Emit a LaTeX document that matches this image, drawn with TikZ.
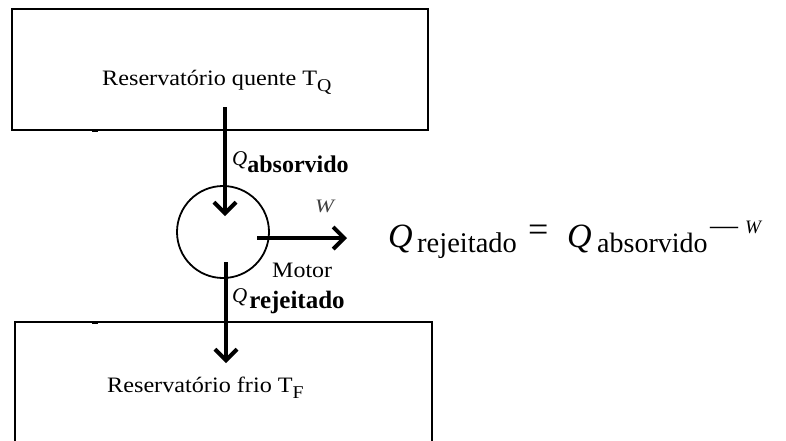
\documentclass[tikz,border=0pt]{standalone}
\usepackage{fontspec}
\setmainfont{Liberation Serif}
\usetikzlibrary{arrows.meta, positioning, calc}

% texto levemente alargado na horizontal
\newcommand{\wide}[2][1.1]{\scalebox{#1}[1]{#2}}

\begin{document}
\begin{tikzpicture}[
  x=1pt, y=-1pt,
  reservoir/.style={draw, line width=1.8pt, minimum width=416pt, inner sep=0pt},
  engine/.style={draw, circle, line width=1.8pt, minimum size=92pt, inner sep=0pt},
  flow/.style={line width=4pt, -{Straight Barb[length=11pt, width=22pt, line width=4pt]}},
  tick/.style={line width=3pt},
  lbl/.style={inner sep=0pt, anchor=base west},
  eqbig/.style={lbl, font=\fontsize{34}{34}\selectfont\itshape},
  eqsub/.style={lbl, font=\fontsize{28.5}{28.5}\selectfont}
]
  \useasboundingbox (0,0) rectangle (786,440);

  % ----- Reservatórios (quente em cima, frio embaixo) -----
  \node[reservoir, minimum height=121pt] (hot)  at (220,69.5) {};
  \node[reservoir, minimum height=130pt, minimum width=417pt] (cold) at (223.5,387) {};
  \node[lbl] (hottxt)  at (102,85)  {\wide{\fontsize{22}{22}\selectfont Reservatório quente T\raisebox{-6pt}{\fontsize{18}{18}\selectfont Q}}};
  \node[lbl] (coldtxt) at (107,392) {\wide{\fontsize{22}{22}\selectfont Reservatório frio T\raisebox{-6pt}{\fontsize{18}{18}\selectfont F}}};

  % pequenas marcas nas bordas
  \draw[tick] (92,130) -- (98,130);
  \draw[tick] (92,322) -- (98,322);

  % ----- Motor -----
  \node[engine] (motor) at (223,232) {};
  \node[lbl] (motortxt) at (272,277) {\wide[1.09]{\fontsize{22}{22}\selectfont Motor}};

  % ----- Fluxos de calor e trabalho -----
  \coordinate (qin)  at (225,107);
  \coordinate (qout) at (226,363);
  \coordinate (wout) at (347,238);
  \draw[flow] (qin) -- ([xshift=2pt, yshift=16pt]motor.center);
  \draw[flow] ([xshift=3pt, yshift=-30pt]motor.center) -- (qout);
  \draw[flow] ([xshift=34pt, yshift=-6pt]motor.center) -- (wout);

  \node[lbl] (qabs) at (232,165) {{\fontsize{21}{21}\selectfont\itshape Q}\raisebox{-7pt}{\fontsize{24}{24}\selectfont\bfseries absorvido}};
  \node[lbl] (qrej) at (232,302) {{\fontsize{21}{21}\selectfont\itshape Q}\hspace{2pt}\raisebox{-6pt}{\fontsize{25}{25}\selectfont\bfseries rejeitado}};
  \node[lbl, text=black!75] (wlbl) at (315,212) {\wide[1.19]{\fontsize{19}{19}\selectfont\itshape W}};

  % ----- Balanço de energia -----
  \node[eqbig] (q1)   at (388,247) {Q};
  \node[eqsub] (rej)  at (417,252) {rejeitado};
  \node[eqbig, font=\fontsize{36}{36}\selectfont] (eqs) at (528,241) {=};
  \node[eqbig] (q2)   at (567,247) {Q};
  \node[eqsub, font=\fontsize{28}{28}\selectfont] (abs) at (597,252) {absorvido};
  \node[eqsub, font=\fontsize{28}{28}\selectfont] (menos) at (710,234) {---};
  \node[lbl, font=\fontsize{19}{19}\selectfont\itshape] (w) at (745,233) {W};
\end{tikzpicture}
\end{document}
